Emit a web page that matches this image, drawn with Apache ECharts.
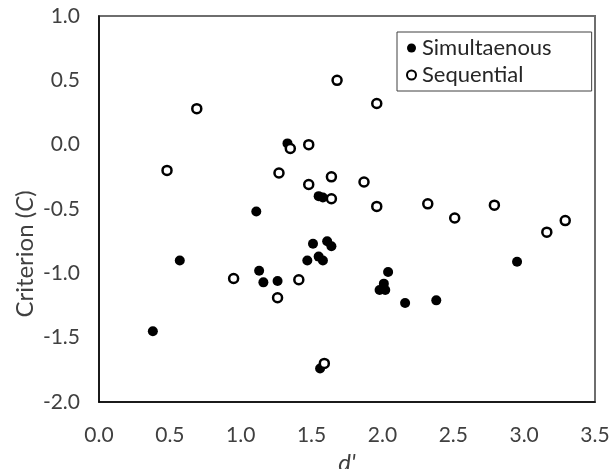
<!DOCTYPE html>
<html>
<head>
<meta charset="utf-8">
<title>Criterion vs d'</title>
<script src="https://cdn.jsdelivr.net/npm/echarts@6/dist/echarts.min.js"></script>
<style>
  html, body { margin: 0; padding: 0; background: #fff; }
  #chart { width: 613px; height: 469px; }
</style>
</head>
<body>
<div id="chart"></div>
<script>
// d' (x) and criterion C (y)
var simX = [1.33, 1.11, 0.57, 0.38, 1.13, 1.16, 1.26, 1.47, 1.51, 1.55, 1.58, 1.61, 1.64, 1.56, 1.55, 1.58, 2.04, 2.01, 1.98, 2.02, 2.16, 2.38, 2.95];
var simY = [0.01, -0.52, -0.90, -1.45, -0.98, -1.07, -1.06, -0.90, -0.77, -0.87, -0.90, -0.75, -0.79, -1.74, -0.40, -0.41, -0.99, -1.08, -1.13, -1.13, -1.23, -1.21, -0.91];

var seqX = [0.69, 0.48, 1.68, 1.35, 1.48, 1.27, 1.48, 1.64, 1.64, 1.96, 1.87, 1.96, 2.32, 2.79, 2.51, 3.16, 3.29, 0.95, 1.41, 1.26, 1.59];
var seqY = [0.28, -0.20, 0.50, -0.03, 0.00, -0.22, -0.31, -0.25, -0.42, 0.32, -0.29, -0.48, -0.46, -0.47, -0.57, -0.68, -0.59, -1.04, -1.05, -1.19, -1.70];

var seriesNames = ['Simultaenous', 'Sequential'];

function pairs(xs, ys) {
    return xs.map(function (x, i) { return [x, ys[i]]; });
}

var font = 'Lato, "Liberation Sans", sans-serif';
var chart = echarts.init(document.getElementById('chart'));

chart.setOption({
    backgroundColor: '#ffffff',
    animation: false,
    grid: {
        left: 99, top: 16, right: 18, bottom: 67,
        outerBoundsMode: 'none',
        containLabel: false,
        show: true,
        borderColor: '#6e6e6e',
        borderWidth: 2,
        backgroundColor: 'transparent'
    },
    legend: {
        data: seriesNames,
        orient: 'vertical',
        left: 397, top: 32,
        padding: [5, 40, 5, 9],
        itemGap: 5,
        itemWidth: 11, itemHeight: 9,
        borderColor: '#404040',
        borderWidth: 1,
        textStyle: { fontFamily: font, fontSize: 22, color: '#262626' }
    },
    xAxis: {
        type: 'value',
        min: 0, max: 3.5, interval: 0.5,
        name: "d'",
        nameLocation: 'middle',
        nameGap: 48,
        nameTextStyle: { fontFamily: font, fontSize: 24, fontStyle: 'italic', color: '#404040' },
        axisLine: { show: true, onZero: false, lineStyle: { color: '#000', width: 1.5 } },
        axisTick: { show: false },
        splitLine: { show: false },
        axisLabel: {
            margin: 23,
            fontFamily: font, fontSize: 21, color: '#404040',
            formatter: function (v) { return v.toFixed(1); }
        }
    },
    yAxis: {
        type: 'value',
        min: -2, max: 1, interval: 0.5,
        axisLine: { show: true, onZero: false, lineStyle: { color: '#000', width: 1.5 } },
        axisTick: { show: false },
        splitLine: { show: false },
        axisLabel: {
            margin: 19,
            fontFamily: font, fontSize: 21, color: '#404040',
            formatter: function (v) { return v.toFixed(1); }
        }
    },
    graphic: [{
        type: 'text',
        x: 25, y: 254,
        rotation: Math.PI / 2,
        style: {
            text: 'Criterion ({i|C})',
            font: '24px ' + font,
            fill: '#404040',
            align: 'center',
            verticalAlign: 'middle',
            rich: { i: { fontStyle: 'italic', fontSize: 24, fontFamily: font, fill: '#404040' } }
        }
    }],
    series: [{
        name: seriesNames[0],
        type: 'scatter',
        symbol: 'circle',
        symbolSize: 10,
        itemStyle: { color: '#000', opacity: 1 },
        data: pairs(simX, simY)
    }, {
        name: seriesNames[1],
        type: 'scatter',
        symbol: 'circle',
        symbolSize: 9,
        itemStyle: { color: '#fff', borderColor: '#000', borderWidth: 2.5, opacity: 1 },
        data: pairs(seqX, seqY)
    }]
});
</script>
</body>
</html>
